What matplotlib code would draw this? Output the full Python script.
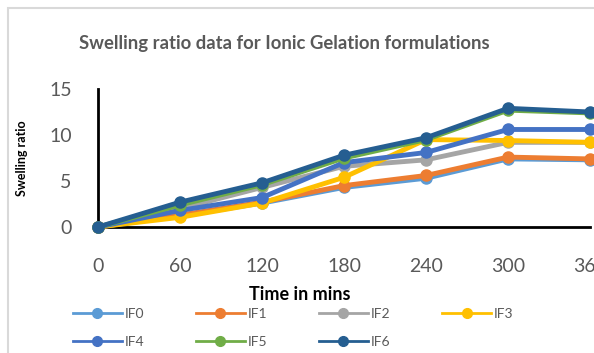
import matplotlib.pyplot as plt
from matplotlib.lines import Line2D
from matplotlib.patches import Rectangle

plt.rcParams['font.family'] = ['Lato', 'DejaVu Sans']

times = [0, 60, 120, 180, 240, 300, 360]
tick_labels = ['0', '60', '120', '180', '240', '300', '360']

IF0 = [0, 1.2, 2.6, 4.3, 5.3, 7.4, 7.3]
IF1 = [0, 1.3, 2.7, 4.5, 5.6, 7.6, 7.4]
IF2 = [0, 2.0, 4.3, 6.6, 7.3, 9.2, 9.2]
IF3 = [0, 1.05, 2.6, 5.4, 9.5, 9.4, 9.2]
IF4 = [0, 1.8, 3.2, 7.0, 8.1, 10.6, 10.6]
IF5 = [0, 2.4, 4.6, 7.5, 9.5, 12.7, 12.4]
IF6 = [0, 2.7, 4.8, 7.8, 9.7, 12.9, 12.5]

names = ['IF0', 'IF1', 'IF2', 'IF3', 'IF4', 'IF5', 'IF6']
series = [IF0, IF1, IF2, IF3, IF4, IF5, IF6]
colors = ['#5B9BD5', '#ED7D31', '#A5A5A5', '#FFC000', '#4472C4', '#70AD47', '#255E91']

W, H = 594, 353
fig = plt.figure(figsize=(W / 100, H / 100), dpi=100)

# chart frame
fig.patches.append(Rectangle((8 / W, -0.1), 1.2, (H - 8) / H + 0.1,
                             transform=fig.transFigure, fill=False,
                             edgecolor='#D9D9D9', linewidth=1.5))

ax = fig.add_axes([98 / W, (H - 227) / H, (590 - 98) / W, (227 - 89) / H])
for name, vals, c in zip(names, series, colors):
    ax.plot(times, vals, color=c, linewidth=3.5, marker='o', markersize=8,
            clip_on=False, zorder=3)

ax.set_xlim(0, 360)
ax.set_ylim(0, 15)
ax.set_xticks(times)
ax.set_xticklabels(tick_labels)
ax.set_yticks([0, 5, 10, 15])
ax.tick_params(axis='both', length=0, labelsize=14, labelcolor='#595959')
ax.tick_params(axis='x', pad=22)
ax.tick_params(axis='y', pad=19)
for s in ['top', 'right']:
    ax.spines[s].set_visible(False)
for s in ['left', 'bottom']:
    ax.spines[s].set_linewidth(2)
    ax.spines[s].set_color('black')

fig.text(284 / W, 1 - 43 / H, 'Swelling ratio data for Ionic Gelation formulations',
         ha='center', va='center', fontsize=13.3, fontweight='bold', color='#595959')
fig.text(300 / W, 1 - 295 / H, 'Time in mins', ha='center', va='center',
         fontsize=13, fontweight='bold', color='black')
fig.text(22 / W, 1 - 158 / H, 'Swelling ratio', ha='center', va='center',
         rotation=90, fontsize=9, fontweight='bold', color='black')

# legend filled row by row: IF0-IF3 on top, IF4-IF6 below
order = [0, 4, 1, 5, 2, 6, 3]
handles = [Line2D([], [], color=colors[i], linewidth=2, marker='o', markersize=7)
           for i in order]
fig.legend(handles, [names[i] for i in order], loc='center',
           bbox_to_anchor=(293 / W, 1 - 328 / H), ncol=4, frameon=False,
           fontsize=10, handlelength=3.5, handletextpad=0.2,
           columnspacing=3.75, labelspacing=1.15, labelcolor='#595959')

fig.savefig('out.png', dpi=100)
